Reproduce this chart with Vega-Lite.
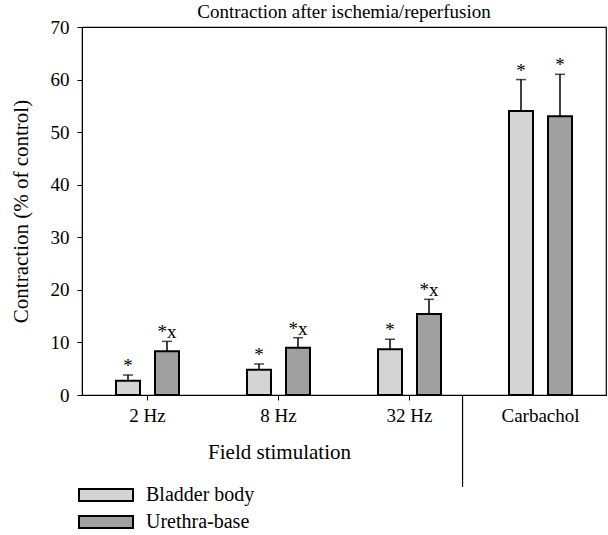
{
  "$schema": "https://vega.github.io/schema/vega-lite/v6.json",
  "width": 524,
  "height": 368,
  "autosize": {"type": "none"},
  "padding": {"left": 82, "top": 27, "right": 2, "bottom": 140},
  "background": "white",
  "title": {"text": "Contraction after ischemia/reperfusion", "font": "Liberation Serif", "fontSize": 19, "fontWeight": "normal", "color": "black", "offset": -4},
  "config": {
    "view": {"stroke": "black", "strokeWidth": 1.2},
    "font": "Liberation Serif",
    "axis": {"labelFont": "Liberation Serif", "titleFont": "Liberation Serif", "labelFontSize": 19, "titleFontSize": 21, "titleFontWeight": "normal", "labelColor": "black", "titleColor": "black", "domainColor": "black", "tickColor": "black", "grid": false, "tickSize": 5},
    "legend": {"labelFont": "Liberation Serif", "labelFontSize": 20, "labelColor": "black"}
  },
  "datasets": {
    "bars": [
      {"stim": "2 Hz", "tissue": "Bladder body", "value": 2.7, "upper": 3.8, "sig": "*"},
      {"stim": "2 Hz", "tissue": "Urethra-base", "value": 8.3, "upper": 10.2, "sig": "*x"},
      {"stim": "8 Hz", "tissue": "Bladder body", "value": 4.8, "upper": 5.9, "sig": "*"},
      {"stim": "8 Hz", "tissue": "Urethra-base", "value": 9.0, "upper": 10.9, "sig": "*x"},
      {"stim": "32 Hz", "tissue": "Bladder body", "value": 8.7, "upper": 10.6, "sig": "*"},
      {"stim": "32 Hz", "tissue": "Urethra-base", "value": 15.4, "upper": 18.2, "sig": "*x"},
      {"stim": "Carbachol", "tissue": "Bladder body", "value": 54.0, "upper": 60.0, "sig": "*"},
      {"stim": "Carbachol", "tissue": "Urethra-base", "value": 53.0, "upper": 61.0, "sig": "*"}
    ],
    "sep": [
      {"stim": "32 Hz", "y0": 0, "y1": -17.5}
    ]
  },
  "layer": [
    {
      "data": {"name": "bars"},
      "mark": {"type": "bar", "stroke": "black", "strokeWidth": 2},
      "encoding": {
        "x": {"field": "stim", "type": "nominal", "sort": ["2 Hz", "8 Hz", "32 Hz", "Carbachol"],
              "scale": {"paddingInner": 0, "paddingOuter": 0},
              "axis": {"title": "Field stimulation", "labelAngle": 0, "labelPadding": 6, "titleX": 197, "titlePadding": 16,
                       "tickOpacity": {"condition": {"test": "datum.value === 'Carbachol'", "value": 0}, "value": 1}}},
        "xOffset": {"field": "tissue", "type": "nominal", "scale": {"paddingInner": 0.385, "paddingOuter": 0.872}},
        "y": {"field": "value", "type": "quantitative", "scale": {"domain": [0, 70], "nice": false},
              "axis": {"title": "Contraction (% of control)", "values": [0, 10, 20, 30, 40, 50, 60, 70], "labelPadding": 8, "titlePadding": 19}},
        "fill": {"field": "tissue", "type": "nominal", "scale": {"range": ["#d4d4d4", "#a0a0a0"]},
                 "legend": {"title": null, "orient": "none", "legendX": 14, "legendY": 458, "symbolType": "M-3,-0.66H3V0.66H-3Z", "symbolSize": 324, "symbolStrokeColor": "black", "symbolStrokeWidth": 2, "symbolOpacity": 1, "labelOffset": 30, "rowPadding": 7}}
      }
    },
    {
      "data": {"name": "bars"},
      "mark": {"type": "rule", "color": "black", "strokeWidth": 1.5},
      "encoding": {
        "x": {"field": "stim", "type": "nominal", "sort": ["2 Hz", "8 Hz", "32 Hz", "Carbachol"]},
        "xOffset": {"field": "tissue", "type": "nominal"},
        "y": {"field": "value", "type": "quantitative"},
        "y2": {"field": "upper"}
      }
    },
    {
      "data": {"name": "bars"},
      "mark": {"type": "tick", "color": "black", "thickness": 1.5, "size": 10, "orient": "horizontal"},
      "encoding": {
        "x": {"field": "stim", "type": "nominal", "sort": ["2 Hz", "8 Hz", "32 Hz", "Carbachol"]},
        "xOffset": {"field": "tissue", "type": "nominal"},
        "y": {"field": "upper", "type": "quantitative"}
      }
    },
    {
      "data": {"name": "bars"},
      "mark": {"type": "text", "color": "black", "fontSize": 19, "dy": -9, "baseline": "middle"},
      "encoding": {
        "x": {"field": "stim", "type": "nominal", "sort": ["2 Hz", "8 Hz", "32 Hz", "Carbachol"]},
        "xOffset": {"field": "tissue", "type": "nominal"},
        "y": {"field": "upper", "type": "quantitative"},
        "text": {"field": "sig"}
      }
    },
    {
      "data": {"name": "sep"},
      "mark": {"type": "rule", "color": "black", "strokeWidth": 1.2, "clip": false},
      "encoding": {
        "x": {"field": "stim", "type": "nominal", "sort": ["2 Hz", "8 Hz", "32 Hz", "Carbachol"], "bandPosition": 0.905},
        "y": {"field": "y0", "type": "quantitative"},
        "y2": {"field": "y1"}
      }
    }
  ]
}
